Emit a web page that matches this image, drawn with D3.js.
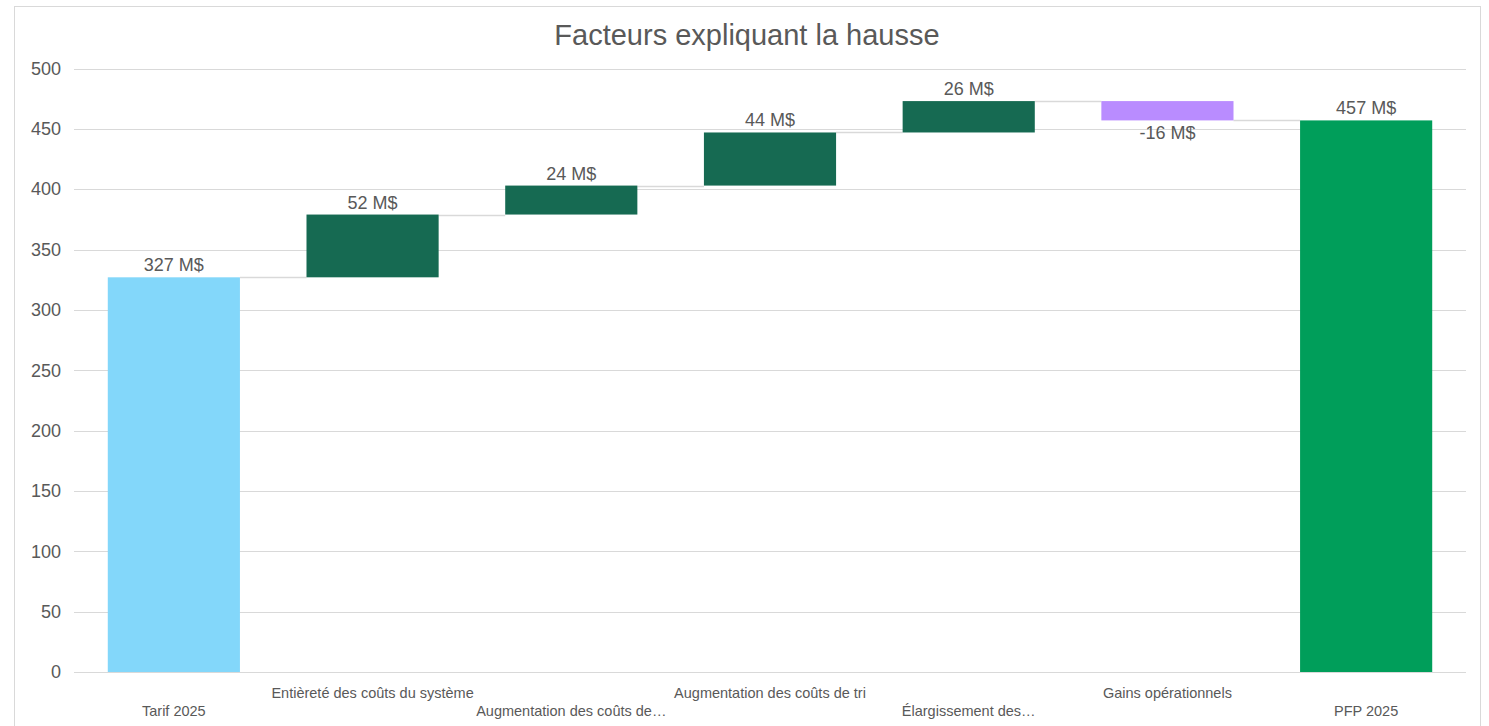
<!DOCTYPE html>
<html><head><meta charset="utf-8">
<script src="https://cdn.jsdelivr.net/npm/d3@7"></script>
<style>body{margin:0;background:#fff;font-family:"Liberation Sans",Arial,sans-serif}</style>
</head><body><svg id="c" width="1489" height="726"></svg>
<script>
const categories = ["Tarif 2025","Entièreté des coûts du système","Augmentation des coûts de…","Augmentation des coûts de tri","Élargissement des…","Gains opérationnels","PFP 2025"];
const values = [327, 52, 24, 44, 26, -16, 457];
const kinds = ["total","up","up","up","up","down","total"];
const labels = ["327 M$","52 M$","24 M$","44 M$","26 M$","-16 M$","457 M$"];
const yTicks = [0,50,100,150,200,250,300,350,400,450,500];
const colors = {first:"#83D7FA", up:"#166A52", down:"#B98CFF", last:"#009E5A"};

const svg = d3.select("#c");
svg.append("rect").attr("x",14.5).attr("y",6.5).attr("width",1466).attr("height",730)
  .attr("fill","#fff").attr("stroke","#d9d9d9");
svg.append("text").attr("x",747).attr("y",45).attr("text-anchor","middle")
  .attr("font-size",29).attr("fill","#595959").text("Facteurs expliquant la hausse");

const x = d3.scaleBand().domain(categories).range([74,1466]).paddingInner(0.335).paddingOuter(0.17);
const y = d3.scaleLinear().domain([0,500]).range([672,68.5]);

// grid
const g = svg.append("g");
g.selectAll("line.grid").data(yTicks).join("line")
  .attr("x1",74).attr("x2",1466).attr("y1",d=>Math.round(y(d))+0.5).attr("y2",d=>Math.round(y(d))+0.5)
  .attr("stroke","#d9d9d9").attr("stroke-width",1);
const yAxis = d3.axisLeft(y).tickValues(yTicks).tickSize(0).tickPadding(13);
const ya = svg.append("g").attr("transform","translate(74,0)").call(yAxis);
ya.select(".domain").remove();
ya.selectAll("text").attr("font-size",18).attr("fill","#595959").attr("font-family","Liberation Sans, Arial, sans-serif");

// compute waterfall
let run = 0;
const bars = values.map((v,i)=>{
  let lo, hi, end;
  if (kinds[i]==="total"){ lo=0; hi=v; end=v; }
  else { const s=run; end=s+v; lo=Math.min(s,end); hi=Math.max(s,end); }
  run = end;
  return {cat:categories[i], v, lo, hi, end, kind:kinds[i], i};
});

// connectors
for (let i=0;i<bars.length-1;i++){
  const yy = Math.round(y(bars[i].end))+0.5;
  svg.append("line").attr("x1",x(bars[i].cat)+x.bandwidth()).attr("x2",x(bars[i+1].cat))
    .attr("y1",yy).attr("y2",yy).attr("stroke","#d9d9d9").attr("stroke-width",1.5);
}

const color = b => b.i===0?colors.first:(b.i===bars.length-1?colors.last:(b.kind==="down"?colors.down:colors.up));
svg.selectAll("rect.bar").data(bars).join("rect").attr("class","bar")
  .attr("x",d=>x(d.cat)).attr("width",x.bandwidth())
  .attr("y",d=>y(d.hi)).attr("height",d=>y(d.lo)-y(d.hi))
  .attr("fill",color);

svg.selectAll("text.lbl").data(bars).join("text").attr("class","lbl")
  .attr("x",d=>x(d.cat)+x.bandwidth()/2)
  .attr("y",d=>d.kind==="down"? y(d.lo)+19 : y(d.hi)-6)
  .attr("text-anchor","middle").attr("font-size",18).attr("fill","#595959")
  .text((d,i)=>labels[i]);

// x labels staggered
svg.selectAll("text.xl").data(categories).join("text").attr("class","xl")
  .attr("x",d=>x(d)+x.bandwidth()/2)
  .attr("y",(d,i)=> i%2===0 ? 716 : 698)
  .attr("text-anchor","middle").attr("font-size",14.5).attr("fill","#595959")
  .text(d=>d);
</script></body></html>
